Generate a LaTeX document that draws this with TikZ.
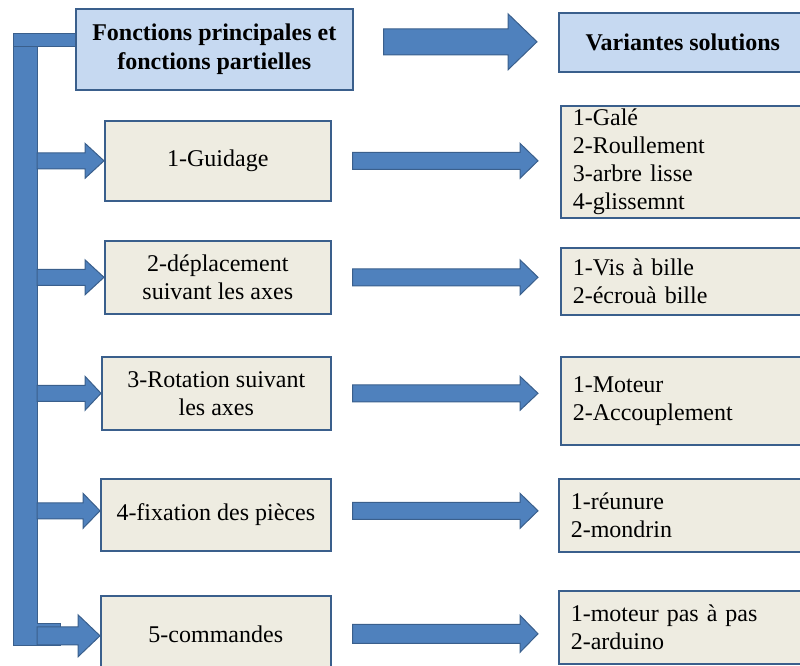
\documentclass[tikz,border=0pt]{standalone}
\usepackage{fontspec}
\setmainfont{LiberationSerif}[Extension=.ttf, UprightFont=*-Regular, BoldFont=*-Bold,
  ItalicFont=*-Italic, BoldItalicFont=*-BoldItalic]
\usetikzlibrary{calc}

\definecolor{arrowblue}{HTML}{4F81BD}
\definecolor{edgeblue}{HTML}{3A5F8C}
\definecolor{headfill}{HTML}{C6D9F1}
\definecolor{tanfill}{HTML}{EEECE1}

% block arrow from #1 to #2 (same height): shaft half-width #3, head half-width #4, head length #5
\newcommand{\blockarrow}[5]{%
  \filldraw[arrowshape] let \p1=#1, \p2=#2 in
    (\x1,\y1+#3pt) -- (\x2-#5pt,\y1+#3pt) -- (\x2-#5pt,\y1+#4pt) -- (\x2,\y1)
    -- (\x2-#5pt,\y1-#4pt) -- (\x2-#5pt,\y1-#3pt) -- (\x1,\y1-#3pt) -- cycle;}

\begin{document}
\begin{tikzpicture}[x=1pt,y=-1pt,
  arrowshape/.style={fill=arrowblue, draw=edgeblue, line width=1pt, line join=miter},
  box/.style={draw=edgeblue, line width=1.6pt, anchor=north west, inner sep=0pt,
    font=\fontsize{24}{28}\selectfont},
  headbox/.style={box, fill=headfill, align=center,
    font=\fontsize{24}{29}\selectfont\bfseries},
  funcbox/.style={box, fill=tanfill, align=center},
  solbox/.style={box, fill=tanfill, align=left, text width=228pt, inner xsep=12pt}
]
\useasboundingbox (0,0) rectangle (800,665);
\clip (0,0) rectangle (800,665);

% header boxes
\node[headbox, minimum width=277, minimum height=81] (title) at (75,8)
  {Fonctions principales et\\fonctions partielles};
\node[headbox, minimum width=248, minimum height=59] (var) at (558,12)
  {Variantes solutions};

% main functions
\node[funcbox, minimum width=226, minimum height=80] (f1) at (104,120) {1-Guidage};
\node[funcbox, minimum width=226, minimum height=73] (f2) at (104,240)
  {2-déplacement\\suivant les axes};
\node[funcbox, minimum width=229, minimum height=73] (f3) at (101,356)
  {3-Rotation suivant\\les axes};
\node[funcbox, minimum width=230, minimum height=72] (f4) at (100,478)
  {4-fixation des pièces};
\node[funcbox, minimum width=230, minimum height=76] (f5) at (100,595) {5-commandes};

% solution variants
\node[solbox, minimum height=112] (s1) at (560,105)
  {1-Galé\\2-Roullement\\3-arbre lisse\\4-glissemnt};
\node[solbox, minimum height=67] (s2) at (560,247)
  {1-Vis à bille\\2-écrouà bille};
\node[solbox, minimum height=88] (s3) at (560,356)
  {1-Moteur\\2-Accouplement};
\node[solbox, minimum height=73] (s4) at (558,478)
  {1-réunure\\2-mondrin};
\node[solbox, minimum height=73] (s5) at (558,590)
  {1-moteur pas à pas\\2-arduino};

% left bracket
\filldraw[arrowshape] (13,33) -- (37,33) -- (37,623) -- (60,623) -- (60,645)
  -- (13,645) -- cycle;
\filldraw[arrowshape] (13,33) rectangle (title.west |- 0,46);
\coordinate (barright) at (37,0);

% header arrow
\blockarrow{($(title.east)+(30,-7.5)$)}{($(var.west)+(-21,-7.5)$)}{13}{28}{29}

% bracket to functions
\blockarrow{(barright |- f1.west)}{(f1.west)}{8}{17.5}{19}
\blockarrow{(barright |- f2.west)}{(f2.west)}{8}{17.5}{19}
\blockarrow{(barright |- f3.west)}{(f3.west)}{8}{17}{16}
\blockarrow{($(barright |- f4.west)+(0,-4)$)}{($(f4.west)+(0,-4)$)}{8}{17.5}{17}
\blockarrow{($(barright |- f5.west)+(0,2)$)}{($(f5.west)+(0,2)$)}{9}{21}{22}

% functions to variants
\blockarrow{($(f1.east)+(21,0)$)}{($(s1.west |- f1.east)+(-22,0)$)}{8.5}{17.5}{18}
\blockarrow{($(f2.east)+(21,0)$)}{($(s2.west |- f2.east)+(-22,0)$)}{8.5}{17.5}{18}
\blockarrow{($(f3.east)+(21,0)$)}{($(s3.west |- f3.east)+(-22,0)$)}{8.5}{17}{18}
\blockarrow{($(f4.east)+(21,-4)$)}{($(s4.west |- f4.east)+(-20,-4)$)}{8.5}{17.5}{18}
\blockarrow{($(f5.east)+(21,0)$)}{($(s5.west |- f5.east)+(-20,0)$)}{9.5}{18.5}{18}
\end{tikzpicture}
\end{document}
